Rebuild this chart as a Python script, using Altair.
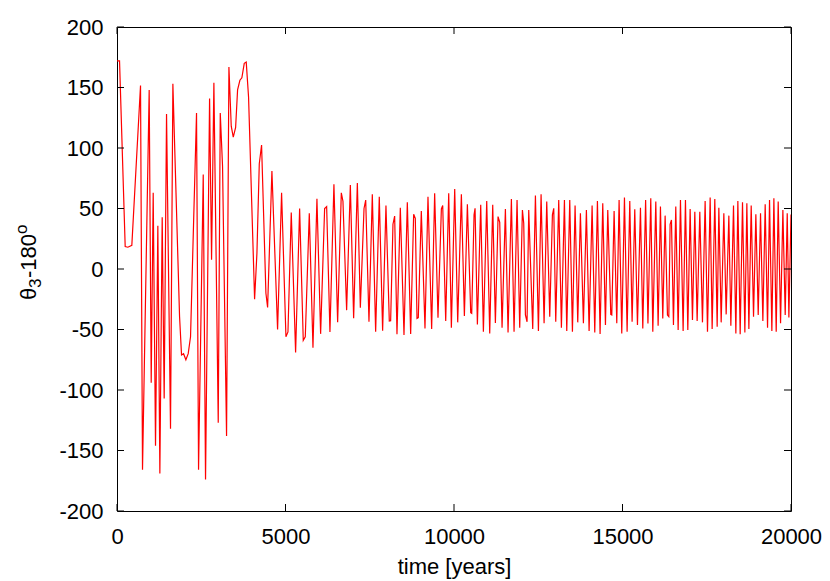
import altair as alt
import pandas as pd

# time [years] and theta_3 - 180 (degrees)
time_years = [
    0, 75, 243, 322, 440, 698, 757, 955, 1015, 1074, 1143, 1212, 1272, 1341, 1400,
    1470, 1588, 1658, 1856, 1915, 1975, 2044, 2113, 2182, 2360, 2420, 2559, 2627,
    2747, 2806, 2875, 3004, 3064, 3132, 3251, 3321, 3390, 3450, 3520, 3578, 3647,
    3705, 3776, 3835, 3904, 4083, 4152, 4222, 4290, 4419, 4469, 4597, 4765, 4884,
    5013, 5073, 5171, 5300, 5419, 5527, 5587, 5706, 5815, 5933, 6042, 6161, 6221,
    6319, 6437, 6547, 6656, 6705, 6814, 6924, 7022, 7132, 7221, 7330, 7380,
    7477, 7576, 7675, 7783, 7882, 7981, 8080, 8120, 8189, 8239, 8308, 8407, 8516,
    8615, 8714, 8803, 8852, 8902, 8941, 9030, 9139, 9228, 9337, 9426, 9525,
    9625, 9665, 9754, 9843, 9922, 10021, 10110, 10219, 10308, 10397, 10496, 10526,
    10595, 10625, 10694, 10793, 10872, 10971, 11060, 11149, 11228, 11307, 11357,
    11426, 11525, 11604,
    11703, 11782, 11871, 11950, 12030, 12069, 12119, 12168, 12218, 12336, 12416,
    12505, 12584, 12673, 12752, 12841, 12920, 12960, 13019, 13108, 13187, 13277,
    13346, 13435, 13514, 13593, 13672,
    13751, 13840, 13929, 14009, 14098, 14177, 14256, 14335, 14414, 14494, 14563,
    14652, 14682, 14751, 14830, 14899, 14978, 15058, 15137, 15216, 15285, 15364,
    15444, 15533, 15602, 15686, 15755,
    15839, 15899, 15988, 16057, 16126, 16195, 16265, 16334, 16374, 16413, 16453,
    16512, 16581, 16651, 16720, 16799, 16868, 16938, 17007, 17076, 17146, 17215,
    17294, 17373, 17452, 17522, 17601, 17660, 17739, 17809,
    17859, 17928, 18007, 18076, 18156, 18215, 18294, 18364, 18423, 18492, 18561,
    18631, 18690, 18750, 18819, 18888, 18957, 19027, 19096, 19165, 19234, 19304,
    19363, 19432, 19492, 19561, 19620, 19690, 19759, 19828, 19888, 19937, 20000,
]
theta3_minus_180 = [
    172, 172, 18.6, 18, 19.6, 151.6, -166, 148, -94, 63, -146, 35.7, -169, 42.7, -107,
    128, -132, 153, -39, -71, -70, -75, -70, -56, 129, -166, 78, -174,
    141, 7.6, 154, -127, 129, 85, -138, 167, 118, 109, 117, 148, 156,
    158, 170, 171, 142, -25, 13, 87, 102.5, -20, -31.7, 81, -50, 63,
    -56, -52, 46.7, -69, 50, -59, -56, 46, -65, 58, -53.6, 50, 51.5,
    -52, 70, -44, 63, 56, -34, 69.5, -40.6, 71, -32, 50, 57,
    -43.6, 61.8, -51.8, 59.8, -51.0, 52.4, -43.0, -42.7, 37.0, 43.8, -54.0, 50.7, -54.6,
    55.1, -53.8, 45.2, 41.9, -40.8, -40.2, 48.0, -49.1, 59.6, -49.6, 62.6, -40.2,
    49.6, 52.4, -43.0, 62.6, -48.5, 66.2, -44.1, 61.8, -38.9, 53.5, -36.1, -36.7,
    44.7, 50.2, -45.8, 53.0, -51.8, 56.2, -53.2, 53.0, -44.7, 43.3, 38.6,
    -48.5, 49.6, -52.5,
    57.9, -51.8, 57.1, -48.5, 48.8, 37.8, -38.0, -43.6, 48.8, -49.6, 60.7,
    -51.3, 61.8, -44.9, 55.7, -39.4, 44.7, 50.2, -43.6, 57.1, -48.5, 57.1,
    -51.3, 57.1, -51.8, 52.4, -44.1,
    46.0, -44.9, 48.8, -51.3, 52.4, -52.4, 56.2, -53.8, 54.3, -46.3, 48.8,
    -37.5, -38.0, 48.0, -44.9, 57.1, -53.2, 59.0, -51.8, 56.2, -43.6, 49.4,
    -46.3, 50.7, -49.1, 57.1, -45.0,
    58.5, -51.8, 55.7, -46.9, 51.6, -40.8, 44.1, -38.0, -39.4, 37.0, 40.5,
    -46.3, 51.6, -50.5, 57.1, -51.3, 57.1, -50.5, 49.6, -42.2, 47.4, -43.0,
    47.4, -44.1, 56.2, -51.8, 59.0, -49.6, 57.9, -47.7,
    50.7, -44.1, 46.0, -37.5, 44.1, -46.9, 52.4, -53.2, 56.2, -54.0, 55.1,
    -52.4, 54.3, -49.6, 52.4, -39.4, 45.2, -38.0, 46.0, -43.0, 53.5, -48.5,
    57.1, -51.3, 58.5, -51.8, 55.7, -44.9, 48.8, -38.0, 46.0, -40.0, 45.0,
]

x_tick_values = [0, 5000, 10000, 15000, 20000]
y_tick_values = [-200, -150, -100, -50, 0, 50, 100, 150, 200]

# y-axis title pieces: theta, subscript 3, "-180", superscript o
ytitle_main1 = "θ"
ytitle_sub = "3"
ytitle_main2 = "-180"
ytitle_sup = "o"

W, H = 674, 484
FONT = "Liberation Sans"
FS = 22

line_df = pd.DataFrame({"t": time_years, "v": theta3_minus_180})
xt_df = pd.DataFrame({"t": x_tick_values})
yt_df = pd.DataFrame({"v": y_tick_values})
one_row = pd.DataFrame({"k": [0]})

xs = alt.Scale(domain=[0, 20000], nice=False, zero=False)
ys = alt.Scale(domain=[-200, 200], nice=False, zero=False)

x_axis = alt.Axis(title="time [years]", values=x_tick_values, ticks=False,
                  domain=False, grid=False, labelFont=FONT, labelFontSize=FS,
                  labelColor="black", labelPadding=15, titleFont=FONT,
                  titleFontSize=FS, titleFontWeight="normal", titleColor="black",
                  titlePadding=9, labelFlush=False, labelExpr="'' + datum.value")
y_axis = alt.Axis(title=None, values=y_tick_values, ticks=False,
                  domain=False, grid=False, labelFont=FONT, labelFontSize=FS,
                  labelColor="black", labelPadding=14, labelFlush=False,
                  labelExpr="'' + datum.value")

X = alt.X("t:Q", scale=xs, axis=x_axis, title="time [years]")
Y = alt.Y("v:Q", scale=ys, axis=y_axis, title=None)

line = alt.Chart(line_df).mark_line(color="#ff0000", strokeWidth=1.2, clip=True).encode(x=X, y=Y)

tick_len = 7
xb = alt.Chart(xt_df).mark_rule(color="black", strokeWidth=1).encode(
    x=X, y=alt.value(H), y2=alt.value(H - tick_len))
xtop = alt.Chart(xt_df).mark_rule(color="black", strokeWidth=1).encode(
    x=X, y=alt.value(0), y2=alt.value(tick_len))
yl = alt.Chart(yt_df).mark_rule(color="black", strokeWidth=1).encode(
    y=Y, x=alt.value(0), x2=alt.value(tick_len))
yr = alt.Chart(yt_df).mark_rule(color="black", strokeWidth=1).encode(
    y=Y, x=alt.value(W), x2=alt.value(W - tick_len))

# rotated y-axis title assembled from pieces (reads bottom to top)
base_x = -81          # baseline position, relative to plot's left edge
y0 = 273              # start (bottom) of the title, relative to plot top
SUB = 17

def tpiece(txt, size, x, y):
    return alt.Chart(one_row).mark_text(
        text=txt, font=FONT, fontSize=size, angle=270, align="left",
        baseline="alphabetic", color="black",
    ).encode(x=alt.value(x), y=alt.value(y))

t1 = tpiece(ytitle_main1, FS, base_x, y0)
t2 = tpiece(ytitle_sub, SUB, base_x + 5, y0 - 12)
t3 = tpiece(ytitle_main2, FS, base_x, y0 - 22)
t4 = tpiece(ytitle_sup, SUB, base_x - 9, y0 - 22 - 44)

chart = alt.layer(line, xb, xtop, yl, yr, t1, t2, t3, t4).properties(
    width=W, height=H,
    autosize=alt.AutoSizeParams(type="none"),
    padding={"left": 109, "top": 19, "right": 31, "bottom": 70},
    background="white",
).configure_view(stroke="black", strokeWidth=1)

chart.save("out.html", embed_options={"renderer": "svg", "actions": False})
